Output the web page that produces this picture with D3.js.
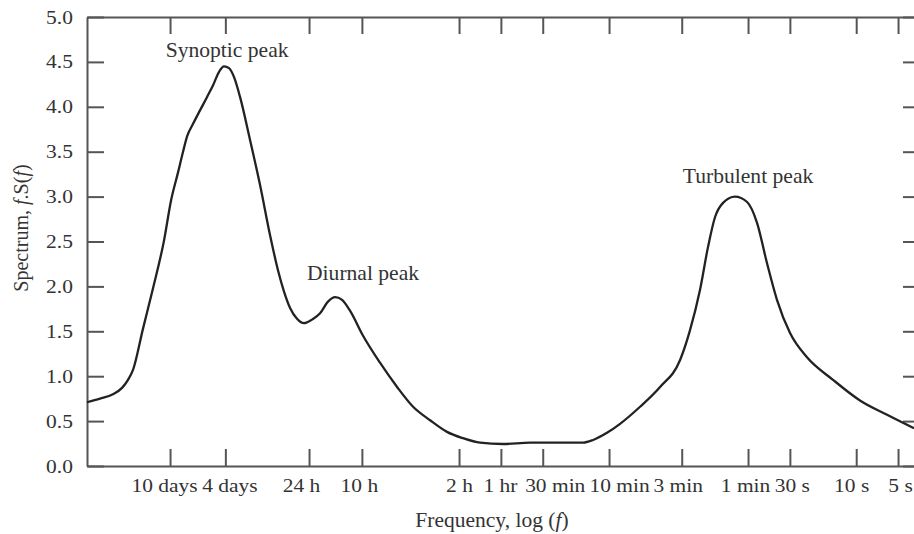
<!DOCTYPE html>
<meta charset="utf-8">
<style>
  body { margin: 0; background: white; }
  svg text { font-family: "Liberation Serif", "Times New Roman", serif; fill: #333; }
  .axis path, .axis line { stroke: #555; stroke-width: 2px; }
  .axis text { font-size: 19px; }
  .curve { fill: none; stroke: #222; stroke-width: 2.3px; }
</style>
<body>
<svg width="914" height="534"></svg>
<script src="https://d3js.org/d3.v7.min.js"></script>
<script>

// tick labels on the frequency axis, and the period (seconds) each one stands for
var tickLabels = ["10 days", "4 days", "24 h", "10 h", "2 h", "1 hr", "30 min", "10 min", "3 min", "1 min", "30 s", "10 s", "5 s"];
var tickPeriods = [864000, 345600, 86400, 36000, 7200, 3600, 1800, 600, 180, 60, 30, 10, 5];

var yTicks = [0, 0.5, 1, 1.5, 2, 2.5, 3, 3.5, 4, 4.5, 5];

// the spectrum curve: log10 of frequency (Hz) and f.S(f)
var logFreq = [-6.534, -6.440, -6.347, -6.282, -6.239, -6.203, -6.131, -6.059, -5.980, -5.929,
  -5.879, -5.843, -5.814, -5.771, -5.721, -5.670, -5.627, -5.584, -5.548, -5.512,
  -5.476, -5.433, -5.361, -5.289, -5.217, -5.160, -5.116, -5.073, -5.023, -4.973,
  -4.915, -4.857, -4.800, -4.749, -4.699, -4.642, -4.548, -4.426, -4.303, -4.188,
  -4.066, -3.944, -3.829, -3.706, -3.541, -3.347, -3.109, -2.965, -2.893, -2.793,
  -2.699, -2.555, -2.411, -2.267, -2.196, -2.124, -2.066, -2.016, -1.958, -1.872,
  -1.785, -1.714, -1.642, -1.570, -1.476, -1.354, -1.167, -0.973, -0.778, -0.584];
var spectrum = [0.71, 0.75, 0.80, 0.87, 0.96, 1.07, 1.53, 1.98, 2.51, 2.96,
  3.27, 3.50, 3.67, 3.81, 3.96, 4.11, 4.24, 4.39, 4.45, 4.43,
  4.33, 4.11, 3.63, 3.13, 2.57, 2.18, 1.94, 1.76, 1.64, 1.59,
  1.63, 1.70, 1.83, 1.88, 1.85, 1.73, 1.45, 1.15, 0.88, 0.66,
  0.51, 0.38, 0.31, 0.26, 0.245, 0.26, 0.26, 0.26, 0.29, 0.37,
  0.47, 0.66, 0.88, 1.18, 1.51, 1.96, 2.44, 2.77, 2.93, 3.00,
  2.94, 2.71, 2.26, 1.85, 1.48, 1.21, 0.96, 0.73, 0.57, 0.42];

// peak names and where they sit (log10 f, f.S(f))
var peakNames = ["Synoptic peak", "Diurnal peak", "Turbulent peak"];
var peakLogFreq = [-5.526, -4.548, -1.778];
var peakValue = [4.55, 2.07, 3.15];

var svg = d3.select("svg");
var plotLeft = 87, plotRight = 920, plotTop = 17, plotBottom = 466;
var stretch = 1.13;   // the printed type is a bit wider than Liberation Serif
// small sideways shifts of the bottom labels, as set in the original
var labelNudge = [-6, 4, -8, -3, 0, -1, 12, 10, -4, -3, 2, -5, 2];

var x = d3.scaleLinear().domain([-6.534, -0.541]).range([plotLeft, plotRight]);
var y = d3.scaleLinear().domain([0, 5]).range([plotBottom, plotTop]);

var tickVals = tickPeriods.map(function(p) { return -Math.log10(p); });

// bottom axis with labels, ticks point inward
var xAxisG = svg.append("g")
  .attr("class", "axis")
  .attr("transform", "translate(0," + plotBottom + ")")
  .call(d3.axisBottom(x).tickValues(tickVals)
    .tickFormat(function(d, i) { return tickLabels[i]; })
    .tickSizeInner(-17).tickSizeOuter(0).tickPadding(13));
xAxisG.selectAll(".tick text")
  .attr("transform", function(d, i) { return "translate(" + labelNudge[i] + ",0) scale(" + stretch + ",1)"; });

// top axis, ticks only
svg.append("g")
  .attr("class", "axis")
  .attr("transform", "translate(0," + plotTop + ")")
  .call(d3.axisTop(x).tickValues(tickVals).tickFormat("")
    .tickSizeInner(-17).tickSizeOuter(0));

// left axis
var yAxisG = svg.append("g")
  .attr("class", "axis")
  .attr("transform", "translate(" + plotLeft + ",0)")
  .call(d3.axisLeft(y).tickValues(yTicks).tickFormat(d3.format(".1f"))
    .tickSizeInner(-17).tickSizeOuter(0).tickPadding(12.5));
yAxisG.selectAll(".tick text").attr("transform", "scale(" + stretch + ",1)");

// right axis, ticks only
svg.append("g")
  .attr("class", "axis")
  .attr("transform", "translate(" + plotRight + ",0)")
  .call(d3.axisRight(y).tickValues(yTicks).tickFormat("")
    .tickSizeInner(-17).tickSizeOuter(0));

svg.selectAll(".axis .domain").attr("stroke", "#555");

// the curve
var pts = logFreq.map(function(d, i) { return [d, spectrum[i]]; });
var line = d3.line()
  .x(function(d) { return x(d[0]); })
  .y(function(d) { return y(d[1]); })
  .curve(d3.curveMonotoneX);

svg.append("path")
  .datum(pts)
  .attr("class", "curve")
  .attr("d", line);

// peak annotations
svg.selectAll(".peak")
  .data(peakNames)
  .enter().append("text")
  .attr("class", "peak")
  .attr("transform", function(d, i) {
    return "translate(" + x(peakLogFreq[i]) + "," + y(peakValue[i]) + ") scale(1.08,1)";
  })
  .attr("text-anchor", "middle")
  .style("font-size", "20px")
  .text(function(d) { return d; });

// axis titles
var xt = svg.append("text")
  .attr("transform", "translate(492,527) scale(1.05,1)")
  .attr("text-anchor", "middle")
  .style("font-size", "20.5px");
xt.append("tspan").text("Frequency, log (");
xt.append("tspan").style("font-style", "italic").text("f");
xt.append("tspan").text(")");

var yt = svg.append("text")
  .attr("transform", "translate(28,228) rotate(-90)")
  .attr("text-anchor", "middle")
  .style("font-size", "20px");
yt.append("tspan").text("Spectrum, ");
yt.append("tspan").style("font-style", "italic").text("f");
yt.append("tspan").text(".S(");
yt.append("tspan").style("font-style", "italic").text("f");
yt.append("tspan").text(")");

</script>
</body>
